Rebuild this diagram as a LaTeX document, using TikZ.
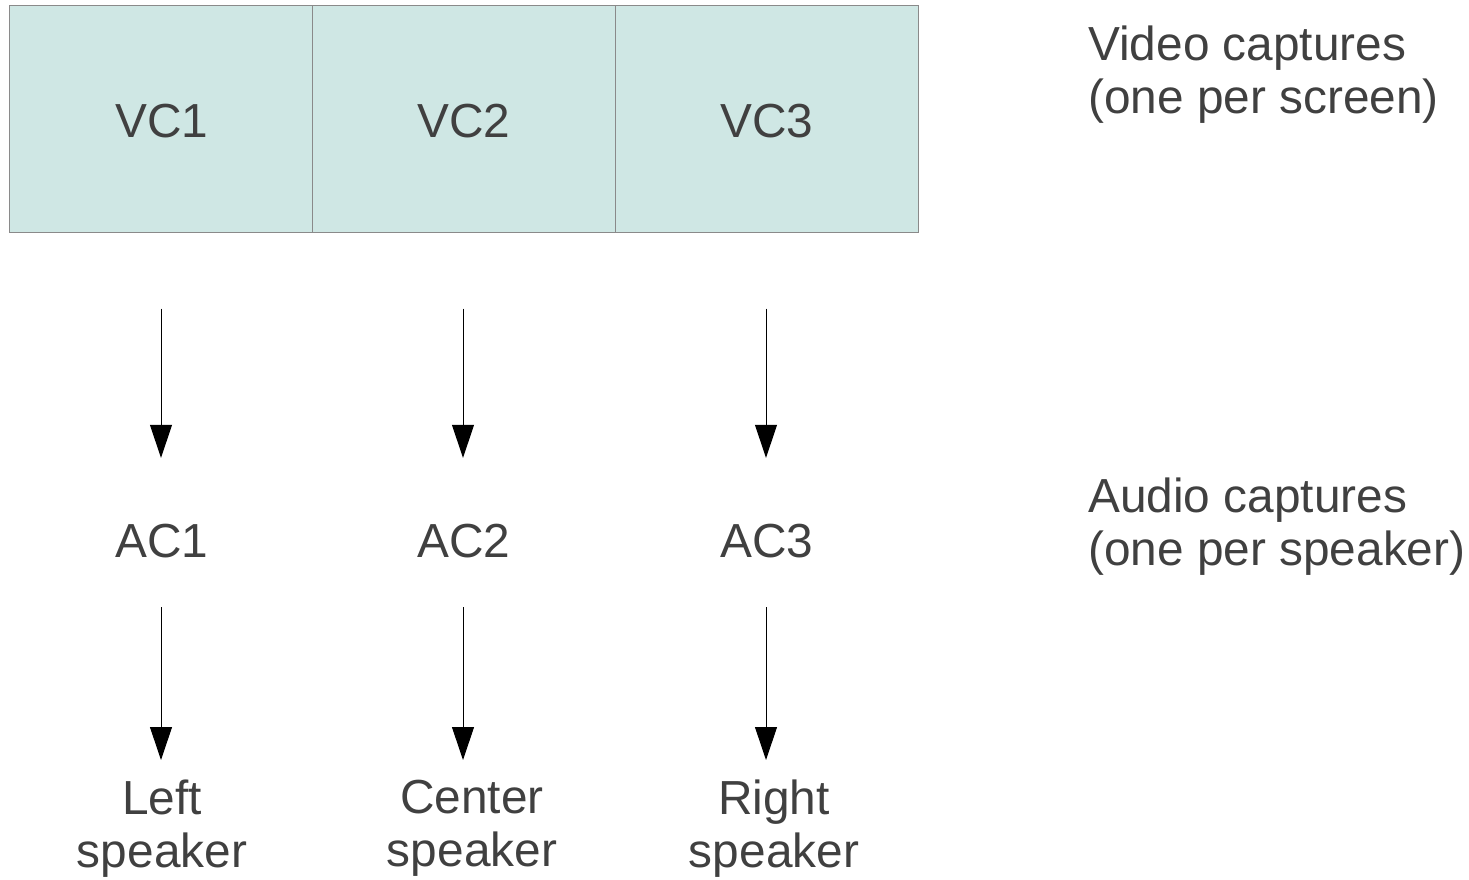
\documentclass[tikz,border=0pt]{standalone}
\usepackage{fontspec}
\setmainfont{Liberation Sans}
\usetikzlibrary{arrows.meta}
\definecolor{capfill}{HTML}{CFE7E4}
\definecolor{capline}{HTML}{8A8A8A}
\definecolor{txt}{HTML}{404040}
\begin{document}
\begin{tikzpicture}[x=1pt,y=-1pt,
  every node/.style={inner sep=0pt, text=txt, font=\fontsize{47.8}{53}\selectfont},
  vcbox/.style={draw=capline, fill=capfill, line width=1pt, minimum width=302.67pt, minimum height=227pt},
  acnode/.style={anchor=base, text height=35pt, text depth=0pt},
  spk/.style={anchor=north, align=center},
  lbl/.style={anchor=north west, align=left},
  arr/.style={-{Triangle[length=33pt,width=22pt]}, line width=1pt, black}]
\useasboundingbox (0,0) rectangle (1469,879);
\node[vcbox] (vc1) at (161.3,118.5) {};
\node[vcbox] (vc2) at (464,118.5) {};
\node[vcbox] (vc3) at (766.7,118.5) {};
\node[anchor=base] (t1) at (162,137) {VC1};
\node[anchor=base] (t2) at (464,137) {VC2};
\node[anchor=base] (t3) at (767,137) {VC3};
\node[acnode] (ac1) at (162,557) {AC1};
\node[acnode] (ac2) at (464,557) {AC2};
\node[acnode] (ac3) at (767,557) {AC3};
\coordinate (a1) at (161,557);
\coordinate (a2) at (463,557);
\coordinate (a3) at (766,557);
\node[spk] (sp1) at (162,780) {Left\\speaker};
\node[spk] (sp2) at (472,780) {Center\\speaker};
\node[spk] (sp3) at (774,780) {Right\\speaker};
\node[lbl] (lv) at (1088,26) {Video captures\\(one per screen)};
\node[lbl] (la) at (1088,478) {Audio captures\\(one per speaker)};
\foreach \i in {1,2,3}{
  \draw[arr, shorten <=76pt, shorten >=64pt] (a\i |- vc\i.south) -- (a\i |- ac\i.north);
  \draw[arr, shorten <=50pt, shorten >=20pt] (a\i |- ac\i.south) -- (a\i |- sp\i.north);
}
\end{tikzpicture}
\end{document}
